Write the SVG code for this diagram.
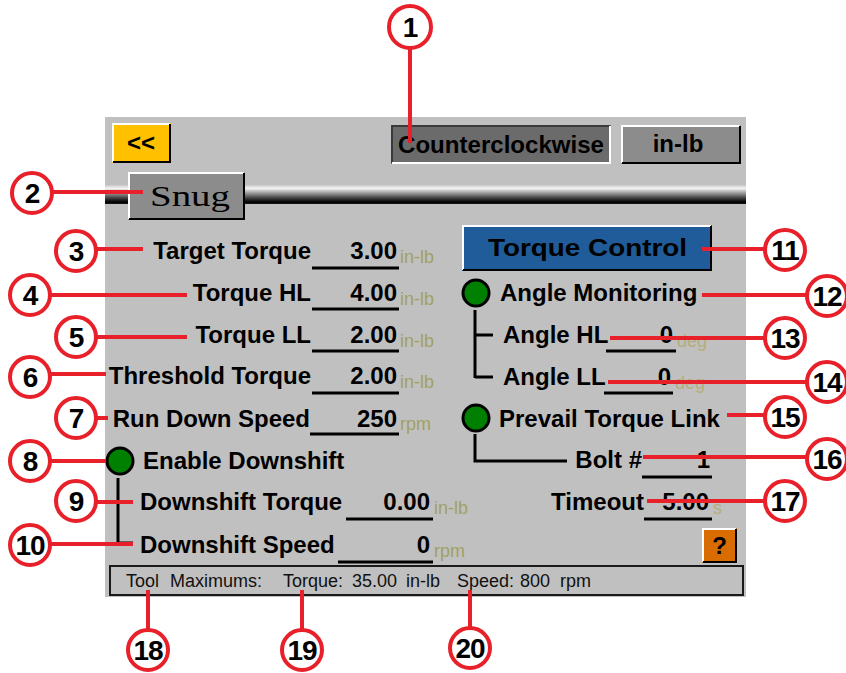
<svg xmlns="http://www.w3.org/2000/svg" width="846" height="673" viewBox="0 0 846 673">
<defs>
<linearGradient id="bar" x1="0" y1="0" x2="0" y2="1">
<stop offset="0" stop-color="#c8c8c8"/>
<stop offset="0.18" stop-color="#f4f4f4"/>
<stop offset="0.35" stop-color="#b4b4b4"/>
<stop offset="0.7" stop-color="#3c3c3c"/>
<stop offset="0.9" stop-color="#000"/>
<stop offset="1" stop-color="#1a1a1a"/>
</linearGradient>
<style>
.lbl{font-family:"Liberation Sans",Arial,sans-serif;font-weight:bold;font-size:24px;fill:#000}
.end{text-anchor:end}
.unit{font-family:"Liberation Sans",Arial,sans-serif;font-size:18px;fill:#a0a062}
.unit2{font-family:"Liberation Sans",Arial,sans-serif;font-size:18px;fill:#b4ae7c}
.stat{font-family:"Liberation Sans",Arial,sans-serif;font-size:18px;fill:#111}
.num{font-family:"Liberation Sans",Arial,sans-serif;font-weight:bold;font-size:28px;fill:#000;text-anchor:middle;letter-spacing:-1px}
.co{fill:#fff;stroke:#e8202a;stroke-width:4}
.cn{stroke:#e8202a;stroke-width:4;fill:none}
.ul{stroke:#000;stroke-width:3}
.br{stroke:#000;stroke-width:3;fill:none}
.hi{stroke:#fff;stroke-width:2;fill:none}
.sh{stroke:#000;stroke-width:2;fill:none}
.radio{fill:#008000;stroke:#000;stroke-width:3}
</style>
</defs>
<rect width="846" height="673" fill="#fff"/>
<rect id="panel" x="105" y="117" width="641" height="480" fill="#c0c0c0"/>
<rect id="tabbar" x="105" y="185" width="641" height="19" fill="url(#bar)"/>

<g id="back-btn">
<rect x="112" y="123" width="59" height="40" fill="#ffc000"/>
<path class="hi" d="M113 162V124H170"/><path class="sh" d="M113 162H170V124"/>
<text class="lbl" x="141" y="151" text-anchor="middle" font-size="20">&lt;&lt;</text>
</g>
<g id="direction">
<rect x="391" y="125" width="220" height="39" fill="#6b6b6b"/>
<path stroke="#3a3a3a" stroke-width="2" fill="none" d="M392 163V126H610"/><path class="hi" d="M392 163H610V126"/>
<text class="lbl" x="398" y="153" textLength="206" lengthAdjust="spacingAndGlyphs">Counterclockwise</text>
</g>
<g id="units-btn">
<rect x="621" y="125" width="120" height="39" fill="#8c8c8c"/>
<path class="hi" d="M622 163V126H740"/><path class="sh" d="M622 163H740V126"/>
<text class="lbl" x="678" y="152" text-anchor="middle">in-lb</text>
</g>
<g id="snug-tab">
<rect x="128" y="172" width="117" height="48" fill="#8c8c8c"/>
<path class="hi" d="M129 219V173H244"/><path class="sh" d="M129 219H244V173"/>
<text x="150" y="206" font-family="'Liberation Serif','Times New Roman',serif" font-size="29" fill="#000" textLength="80" lengthAdjust="spacingAndGlyphs">Snug</text>
</g>

<g id="target-torque">
<text class="lbl end" x="311" y="259">Target Torque</text>
<line class="ul" x1="312" y1="268" x2="399" y2="268"/>
<text class="lbl end" x="397" y="259">3.00</text>
<text class="unit" x="400" y="263">in-lb</text>
</g>
<g id="torque-hl">
<text class="lbl end" x="311" y="301">Torque HL</text>
<line class="ul" x1="312" y1="309" x2="399" y2="309"/>
<text class="lbl end" x="397" y="301">4.00</text>
<text class="unit" x="400" y="305">in-lb</text>
</g>
<g id="torque-ll">
<text class="lbl end" x="311" y="343">Torque LL</text>
<line class="ul" x1="312" y1="351" x2="399" y2="351"/>
<text class="lbl end" x="397" y="343">2.00</text>
<text class="unit" x="400" y="347">in-lb</text>
</g>
<g id="threshold-torque">
<text class="lbl end" x="311" y="384">Threshold Torque</text>
<line class="ul" x1="312" y1="393" x2="399" y2="393"/>
<text class="lbl end" x="397" y="384">2.00</text>
<text class="unit" x="400" y="388">in-lb</text>
</g>
<g id="run-down-speed">
<text class="lbl end" x="310" y="427">Run Down Speed</text>
<line class="ul" x1="310" y1="434" x2="399" y2="434"/>
<text class="lbl end" x="397" y="427">250</text>
<text class="unit" x="400" y="430">rpm</text>
</g>
<g id="enable-downshift">
<circle class="radio" cx="120" cy="461" r="13"/>
<text class="lbl" x="143" y="469">Enable Downshift</text>
<path class="br" d="M118 478V544M118 502H133M118 543H133"/>
</g>
<g id="downshift-torque">
<text class="lbl" x="140" y="510">Downshift Torque</text>
<line class="ul" x1="346" y1="519" x2="433" y2="519"/>
<text class="lbl end" x="430" y="510">0.00</text>
<text class="unit" x="434" y="514">in-lb</text>
</g>
<g id="downshift-speed">
<text class="lbl" x="140" y="553">Downshift Speed</text>
<line class="ul" x1="338" y1="562" x2="433" y2="562"/>
<text class="lbl end" x="430" y="553">0</text>
<text class="unit" x="434" y="557">rpm</text>
</g>

<g id="torque-control">
<rect x="462" y="225" width="250" height="46" fill="#1f5c99"/>
<path class="hi" d="M463 270V226H711"/><path class="sh" d="M463 270H711V226"/>
<text class="lbl" x="488" y="256" font-size="25" textLength="199" lengthAdjust="spacingAndGlyphs">Torque Control</text>
</g>
<g id="angle-monitoring">
<circle class="radio" cx="476" cy="293" r="13"/>
<text class="lbl" x="500" y="301">Angle Monitoring</text>
<path class="br" d="M475 310V378M475 335H493M475 377H493"/>
</g>
<g id="angle-hl">
<text class="lbl" x="503" y="343">Angle HL</text>
<line class="ul" x1="606" y1="351" x2="676" y2="351"/>
<text class="lbl end" x="673" y="343">0</text>
<text class="unit2" x="677" y="347">deg</text>
</g>
<g id="angle-ll">
<text class="lbl" x="503" y="385">Angle LL</text>
<line class="ul" x1="604" y1="393" x2="673" y2="393"/>
<text class="lbl end" x="671" y="385">0</text>
<text class="unit2" x="675" y="389">deg</text>
</g>
<g id="prevail-torque-link">
<circle class="radio" cx="476" cy="418" r="13"/>
<text class="lbl" x="499" y="427">Prevail Torque Link</text>
<path class="br" d="M475 434V461H567"/>
</g>
<g id="bolt">
<text class="lbl end" x="642" y="468">Bolt #</text>
<line class="ul" x1="642" y1="477" x2="712" y2="477"/>
<text class="lbl end" x="710" y="468">1</text>
</g>
<g id="timeout">
<text class="lbl end" x="644" y="510">Timeout</text>
<line class="ul" x1="644" y1="519" x2="712" y2="519"/>
<text class="lbl end" x="709" y="510">5.00</text>
<text class="unit2" x="713" y="514">s</text>
</g>
<g id="help-btn">
<rect x="702" y="528" width="35" height="35" fill="#d96c00"/>
<path class="hi" d="M703 562V529H736"/><path class="sh" d="M703 562H736V529"/>
<text class="lbl" x="719.5" y="554" text-anchor="middle" font-size="22">?</text>
</g>
<g id="status-bar">
<rect x="110" y="566" width="633" height="29" fill="#c0c0c0" stroke="#1a1a1a" stroke-width="2"/>
<text class="stat" y="587"><tspan x="126">Tool</tspan><tspan x="170">Maximums:</tspan><tspan x="283">Torque:</tspan><tspan x="352">35.00</tspan><tspan x="406">in-lb</tspan><tspan x="457">Speed:</tspan><tspan x="520">800</tspan><tspan x="560">rpm</tspan></text>
</g>

<g id="connectors">
<path class="cn" d="M410 49V143"/>
<path class="cn" d="M52 192H143"/>
<path class="cn" d="M96 249H143"/>
<path class="cn" d="M50 295H187"/>
<path class="cn" d="M96 337H187"/>
<path class="cn" d="M50 374H106"/>
<path class="cn" d="M96 418H108"/>
<path class="cn" d="M50 461H106"/>
<path class="cn" d="M96 502H133"/>
<path class="cn" d="M50 544H133"/>
<path class="cn" d="M702 249H765"/>
<path class="cn" d="M702 295H807"/>
<path class="cn" d="M610 338H765"/>
<path class="cn" d="M608 382H807"/>
<path class="cn" d="M727 415H765"/>
<path class="cn" d="M643 457H807"/>
<path class="cn" d="M647 501H765"/>
<path class="cn" d="M148 590V630"/>
<path class="cn" d="M302 590V630"/>
<path class="cn" d="M470 590V628"/>
</g>

<g id="callout-1"><circle class="co" cx="410" cy="27" r="21"/><text class="num" x="410" y="37">1</text></g>
<g id="callout-2"><circle class="co" cx="32" cy="193" r="20"/><text class="num" x="32" y="203">2</text></g>
<g id="callout-3"><circle class="co" cx="76" cy="251" r="20"/><text class="num" x="76" y="261">3</text></g>
<g id="callout-4"><circle class="co" cx="30" cy="295" r="20"/><text class="num" x="30" y="305">4</text></g>
<g id="callout-5"><circle class="co" cx="76" cy="337" r="20"/><text class="num" x="76" y="347">5</text></g>
<g id="callout-6"><circle class="co" cx="30" cy="377" r="20"/><text class="num" x="30" y="387">6</text></g>
<g id="callout-7"><circle class="co" cx="76" cy="418" r="20"/><text class="num" x="76" y="428">7</text></g>
<g id="callout-8"><circle class="co" cx="30" cy="461" r="20"/><text class="num" x="30" y="471">8</text></g>
<g id="callout-9"><circle class="co" cx="76" cy="501" r="20"/><text class="num" x="76" y="511">9</text></g>
<g id="callout-10"><circle class="co" cx="30" cy="545" r="20"/><text class="num" x="30" y="555">10</text></g>
<g id="callout-11"><circle class="co" cx="785" cy="250" r="20"/><text class="num" x="785" y="260">11</text></g>
<g id="callout-12"><circle class="co" cx="827" cy="296" r="20"/><text class="num" x="827" y="306">12</text></g>
<g id="callout-13"><circle class="co" cx="785" cy="338" r="20"/><text class="num" x="785" y="348">13</text></g>
<g id="callout-14"><circle class="co" cx="827" cy="382" r="20"/><text class="num" x="827" y="392">14</text></g>
<g id="callout-15"><circle class="co" cx="785" cy="417" r="20"/><text class="num" x="785" y="427">15</text></g>
<g id="callout-16"><circle class="co" cx="827" cy="459" r="20"/><text class="num" x="827" y="469">16</text></g>
<g id="callout-17"><circle class="co" cx="785" cy="501" r="20"/><text class="num" x="785" y="511">17</text></g>
<g id="callout-18"><circle class="co" cx="148" cy="650" r="20"/><text class="num" x="148" y="660">18</text></g>
<g id="callout-19"><circle class="co" cx="302" cy="650" r="20"/><text class="num" x="302" y="660">19</text></g>
<g id="callout-20"><circle class="co" cx="470" cy="648" r="20"/><text class="num" x="470" y="658">20</text></g>
</svg>
